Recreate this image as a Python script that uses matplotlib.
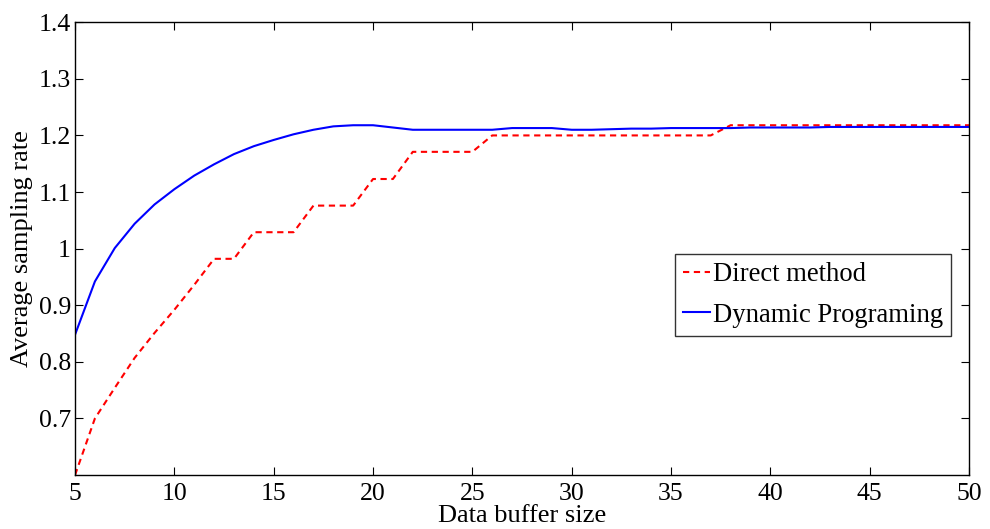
import numpy as np
import matplotlib.pyplot as plt

plt.rcParams['font.family'] = ['Liberation Serif', 'DejaVu Serif']
plt.rcParams['mathtext.fontset'] = 'stix'

# buffer sizes 5..50
buffer_size = list(range(5, 51))

# Direct method (red dashed)
direct = [0.600, 0.700, 0.754, 0.807, 0.851, 0.892, 0.936, 0.982, 0.982, 1.029,
          1.029, 1.029, 1.076, 1.076, 1.076, 1.123, 1.123, 1.171, 1.171, 1.171,
          1.171, 1.200, 1.200, 1.200, 1.200, 1.200, 1.200, 1.200, 1.200, 1.200,
          1.200, 1.200, 1.200, 1.218, 1.218, 1.218, 1.218, 1.218, 1.218, 1.218,
          1.218, 1.218, 1.218, 1.218, 1.218, 1.218]

# Dynamic programming (blue solid)
dynamic = [0.848, 0.942, 1.001, 1.044, 1.078, 1.105, 1.129, 1.149, 1.167, 1.181,
           1.192, 1.202, 1.210, 1.216, 1.218, 1.218, 1.214, 1.210, 1.210, 1.210,
           1.210, 1.210, 1.213, 1.213, 1.213, 1.210, 1.210, 1.211, 1.212, 1.212,
           1.213, 1.213, 1.213, 1.213, 1.214, 1.214, 1.214, 1.214, 1.215, 1.215,
           1.215, 1.215, 1.215, 1.215, 1.215, 1.215]

x_ticks = [5, 10, 15, 20, 25, 30, 35, 40, 45, 50]
y_ticks = [0.7, 0.8, 0.9, 1.0, 1.1, 1.2, 1.3, 1.4]
y_labels = ['0.7', '0.8', '0.9', '1', '1.1', '1.2', '1.3', '1.4']

fig = plt.figure(figsize=(9.9, 5.29), dpi=100)
ax = fig.add_axes([0.0758, 0.102, 0.903, 0.856])

ax.plot(buffer_size, direct, color='red', lw=1.5, linestyle=(0, (3, 2.2)),
        label='Direct method')
ax.plot(buffer_size, dynamic, color='blue', lw=1.5, label='Dynamic Programing')

ax.set_xlim(5, 50)
ax.set_ylim(0.6, 1.4)
ax.set_xticks(x_ticks)
ax.set_yticks(y_ticks)
ax.set_yticklabels(y_labels)
ax.tick_params(direction='in', length=6, width=0.8, labelsize=18.5,
               top=True, right=True)
ax.tick_params(axis='x', pad=6)
ax.tick_params(axis='y', pad=3)

for s in ax.spines.values():
    s.set_linewidth(1.0)

ax.set_xlabel('Data buffer size', fontsize=19, labelpad=0)
ax.set_ylabel('Average sampling rate', fontsize=19, labelpad=4)

leg = ax.legend(loc='upper left', bbox_to_anchor=(0.6715, 0.488), fontsize=19.2,
                frameon=True, fancybox=False, edgecolor='black',
                handlelength=1.0, handletextpad=0.12, borderpad=0.3,
                labelspacing=0.58, borderaxespad=0)
leg.get_frame().set_linewidth(1.0)

plt.savefig('out.png', dpi=100)
plt.close()
